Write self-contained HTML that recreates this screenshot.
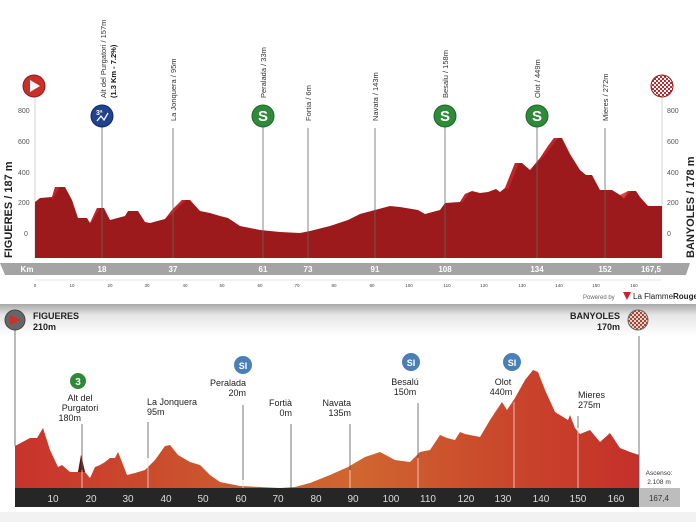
<!DOCTYPE html>
<html><head><meta charset="utf-8"><style>
html,body{margin:0;padding:0;background:#fff;}
svg{display:block;font-family:"Liberation Sans",sans-serif;}
</style></head><body>
<svg width="696" height="522" viewBox="0 0 696 522" xmlns="http://www.w3.org/2000/svg">
<defs>
<linearGradient id="band" x1="0" y1="0" x2="0" y2="1">
<stop offset="0" stop-color="#a8a8a8"/><stop offset="0.35" stop-color="#e6e6e6"/><stop offset="1" stop-color="#ffffff"/>
</linearGradient>
<linearGradient id="prof2" x1="0" y1="0" x2="1" y2="0">
<stop offset="0" stop-color="#c8332b"/><stop offset="0.35" stop-color="#cc5a2e"/><stop offset="0.55" stop-color="#d0662f"/><stop offset="0.8" stop-color="#c9452b"/><stop offset="1" stop-color="#c4302a"/>
</linearGradient>
<pattern id="chk" width="4" height="4" patternUnits="userSpaceOnUse">
<rect width="4" height="4" fill="#fff"/><rect width="2" height="2" fill="#c0282a"/><rect x="2" y="2" width="2" height="2" fill="#c0282a"/>
</pattern>
<pattern id="chk2" width="4" height="4" patternUnits="userSpaceOnUse">
<rect width="4" height="4" fill="#e8d0c8"/><rect width="2" height="2" fill="#a0463a"/><rect x="2" y="2" width="2" height="2" fill="#a0463a"/>
</pattern>
</defs>

<!-- ============ TOP CHART ============ -->
<!-- y axis ticks -->
<g font-size="7" fill="#555">
<text x="18" y="113">800</text><text x="18" y="144">600</text><text x="18" y="175">400</text><text x="18" y="205">200</text><text x="24" y="236">0</text>
<text x="667" y="113">800</text><text x="667" y="144">600</text><text x="667" y="175">400</text><text x="667" y="205">200</text><text x="667" y="236">0</text>
</g>
<line x1="35" y1="95" x2="35" y2="258" stroke="#bbb" stroke-width="0.6"/>
<line x1="662" y1="95" x2="662" y2="258" stroke="#bbb" stroke-width="0.6"/>
<text transform="translate(12,258) rotate(-90)" font-size="11" font-weight="bold" fill="#222">FIGUERES / 187 m</text>
<text transform="translate(694,258) rotate(-90)" font-size="11" font-weight="bold" fill="#222">BANYOLES / 178 m</text>

<!-- profile -->
<path fill="#9c1a1c" d="M35,258 L35,202 L40,198 L52,197 L55,187 L65,187 L72,200 L78,218 L87,218 L90,223 L97,208 L104,208 L110,220 L125,216 L128,211 L138,211 L145,222 L150,223 L165,219 L172,210 L182,200 L190,200 L200,211 L210,213 L220,216 L228,218 L240,226 L260,230 L280,232 L300,233 L310,231 L330,226 L348,220 L360,214 L375,210 L390,206 L400,207 L418,210 L425,214 L440,210 L445,203 L460,202 L465,194 L472,191 L480,193 L488,192 L496,189 L500,192 L505,188 L515,163 L522,163 L530,170 L540,158 L548,146 L554,138 L562,138 L570,154 L580,170 L586,175 L592,175 L600,190 L612,190 L620,195 L624,198 L628,191 L636,191 L640,197 L648,206 L662,206 L662,258 Z"/>
<path fill="#c7282a" opacity="0.85" d="M52,197 L55,187 L60,187 L52,200Z M90,223 L97,208 L100,208 L92,222Z M165,219 L172,210 L182,200 L186,200 L172,214Z M505,188 L515,163 L519,163 L508,190Z M530,170 L540,158 L548,146 L554,138 L558,138 L545,155Z M460,202 L465,194 L470,192 L463,202Z M620,195 L628,191 L631,191 L624,199Z"/>

<!-- marker lines -->
<g stroke="#666" stroke-width="0.8">
<line x1="102" y1="126" x2="102" y2="258"/>
<line x1="173" y1="128" x2="173" y2="258"/>
<line x1="263" y1="126" x2="263" y2="258"/>
<line x1="308" y1="128" x2="308" y2="258"/>
<line x1="375" y1="128" x2="375" y2="258"/>
<line x1="445" y1="126" x2="445" y2="258"/>
<line x1="537" y1="126" x2="537" y2="258"/>
<line x1="605" y1="128" x2="605" y2="258"/>
</g>
<g font-size="7.5" fill="#333">
<text transform="translate(106,98) rotate(-90)">Alt del Purgatori / 157m</text>
<text transform="translate(116,98) rotate(-90)" font-weight="bold" fill="#111">(1.3 Km - 7.2%)</text>
<text transform="translate(176,121) rotate(-90)">La Jonquera / 95m</text>
<text transform="translate(266,98) rotate(-90)">Peralada / 33m</text>
<text transform="translate(311,121) rotate(-90)">Fortia / 6m</text>
<text transform="translate(378,121) rotate(-90)">Navata / 143m</text>
<text transform="translate(448,98) rotate(-90)">Besalu / 158m</text>
<text transform="translate(540,98) rotate(-90)">Olot / 449m</text>
<text transform="translate(608,121) rotate(-90)">Mieres / 272m</text>
</g>
<!-- icons -->
<circle cx="34" cy="86" r="11" fill="#c9302a" stroke="#8a1e1a" stroke-width="1"/>
<path d="M30,80 L40,86 L30,92Z" fill="#fff"/>
<circle cx="662" cy="86" r="11" fill="url(#chk)" stroke="#8a1e1a" stroke-width="1"/>
<circle cx="102" cy="116" r="11" fill="#22418e" stroke="#112a66" stroke-width="1"/>
<text x="96" y="115" font-size="7" fill="#fff" font-weight="bold">3ª</text>
<path d="M97,121 L101,116 L104,120 L108,113" stroke="#fff" stroke-width="1.3" fill="none"/>
<g font-size="15" font-weight="bold" fill="#fff" text-anchor="middle">
<circle cx="263" cy="116" r="11" fill="#2f8a3a" stroke="#1e6628" stroke-width="1"/><text x="263" y="121">S</text>
<circle cx="445" cy="116" r="11" fill="#2f8a3a" stroke="#1e6628" stroke-width="1"/><text x="445" y="121">S</text>
<circle cx="537" cy="116" r="11" fill="#2f8a3a" stroke="#1e6628" stroke-width="1"/><text x="537" y="121">S</text>
</g>

<!-- km bar -->
<path d="M0,263 L690,263 L686,275 L5,275 Z" fill="#a4a4a4"/>
<g font-size="8" font-weight="bold" fill="#fff" text-anchor="middle">
<text x="27" y="272">Km</text><text x="102" y="272">18</text><text x="173" y="272">37</text><text x="263" y="272">61</text><text x="308" y="272">73</text><text x="375" y="272">91</text><text x="445" y="272">108</text><text x="537" y="272">134</text><text x="605" y="272">152</text><text x="651" y="272">167,5</text>
</g>
<line x1="35" y1="280" x2="662" y2="280" stroke="#ccc" stroke-width="0.6"/>
<g font-size="4.5" fill="#444" text-anchor="middle">
<text x="35" y="287">0</text><text x="72" y="287">10</text><text x="110" y="287">20</text><text x="147" y="287">30</text><text x="185" y="287">40</text><text x="222" y="287">50</text><text x="260" y="287">60</text><text x="297" y="287">70</text><text x="334" y="287">80</text><text x="372" y="287">90</text><text x="409" y="287">100</text><text x="447" y="287">110</text><text x="484" y="287">120</text><text x="522" y="287">130</text><text x="559" y="287">140</text><text x="596" y="287">150</text><text x="634" y="287">160</text>
</g>
<text x="583" y="299" font-size="6" fill="#666">Powered by</text>
<path d="M623,292 L631,292 L627,300Z" fill="#d0202a"/>
<text x="633" y="299" font-size="8" fill="#222">La Flamme<tspan font-weight="bold">Rouge</tspan></text>

<!-- ============ BOTTOM CHART ============ -->
<rect x="0" y="304" width="696" height="32" fill="url(#band)"/>
<path fill="url(#prof2)" d="M15,488 L15,446 L30,438 L37,438 L43,428 L50,450 L58,467 L62,465 L70,472 L78,472 L81,455 L85,472 L90,478 L95,467 L100,465 L105,462 L110,458 L115,458 L118,452 L122,462 L127,475 L135,473 L145,470 L155,460 L165,446 L170,445 L178,455 L190,462 L200,465 L210,475 L220,482 L240,486 L260,487 L280,488 L295,487 L310,483 L330,475 L348,467 L365,457 L380,452 L395,460 L410,462 L420,452 L430,450 L440,435 L447,438 L455,440 L460,432 L465,434 L480,437 L490,420 L500,405 L502,402 L507,410 L515,398 L525,380 L533,370 L538,372 L545,390 L555,412 L568,420 L570,415 L575,428 L580,434 L590,430 L600,442 L610,433 L620,448 L630,452 L639,455 L639,488 Z"/>
<path d="M78,472 L81,455 L85,472Z" fill="#5a1a14"/>
<g stroke="#e8e0dc" stroke-width="0.8">
<line x1="82" y1="470" x2="82" y2="488"/><line x1="148" y1="458" x2="148" y2="488"/><line x1="243" y1="480" x2="243" y2="488"/><line x1="350" y1="470" x2="350" y2="488"/><line x1="418" y1="458" x2="418" y2="488"/><line x1="514" y1="402" x2="514" y2="488"/><line x1="578" y1="428" x2="578" y2="488"/>
</g>
<g stroke="#555" stroke-width="0.8">
<line x1="15" y1="330" x2="15" y2="446"/>
<line x1="82" y1="424" x2="82" y2="470"/><line x1="148" y1="422" x2="148" y2="458"/><line x1="243" y1="405" x2="243" y2="480"/><line x1="291" y1="424" x2="291" y2="488"/><line x1="350" y1="424" x2="350" y2="470"/><line x1="418" y1="403" x2="418" y2="458"/><line x1="578" y1="416" x2="578" y2="428"/>
<line x1="639" y1="336" x2="639" y2="488"/>
</g>
<!-- bar -->
<rect x="15" y="488" width="624" height="19" fill="#262626"/>
<rect x="639" y="488" width="41" height="19" fill="#bdbdbd"/>
<g font-size="10" fill="#ddd" text-anchor="middle">
<text x="53" y="502">10</text><text x="91" y="502">20</text><text x="128" y="502">30</text><text x="166" y="502">40</text><text x="203" y="502">50</text><text x="241" y="502">60</text><text x="278" y="502">70</text><text x="316" y="502">80</text><text x="353" y="502">90</text><text x="391" y="502">100</text><text x="428" y="502">110</text><text x="466" y="502">120</text><text x="503" y="502">130</text><text x="541" y="502">140</text><text x="578" y="502">150</text><text x="616" y="502">160</text>
</g>
<text x="659" y="501" font-size="8" fill="#333" text-anchor="middle">167,4</text>
<text x="659" y="475" font-size="6.5" fill="#333" text-anchor="middle">Ascenso:</text>
<text x="659" y="484" font-size="6.5" fill="#333" text-anchor="middle">2.108 m</text>

<!-- icons -->
<circle cx="15" cy="320" r="10" fill="#666" stroke="#444"/>
<path d="M10,315 L21,320 L10,325Z" fill="#d0302a"/>
<circle cx="638" cy="320" r="10" fill="url(#chk2)" stroke="#666"/>
<g font-weight="bold" fill="#fff" text-anchor="middle">
<circle cx="78" cy="381" r="8" fill="#2e8a36"/><text x="78" y="385" font-size="10">3</text>
<circle cx="243" cy="365" r="9" fill="#4a7fb8"/><text x="243" y="369" font-size="9">SI</text>
<circle cx="411" cy="362" r="9" fill="#4a7fb8"/><text x="411" y="366" font-size="9">SI</text>
<circle cx="512" cy="362" r="9" fill="#4a7fb8"/><text x="512" y="366" font-size="9">SI</text>
</g>
<g font-size="9" fill="#222">
<text x="33" y="319" font-weight="bold">FIGUERES</text><text x="33" y="330" font-weight="bold">210m</text>
<text x="620" y="319" font-weight="bold" text-anchor="end">BANYOLES</text><text x="620" y="330" font-weight="bold" text-anchor="end">170m</text>
<text x="80" y="401" text-anchor="middle">Alt del</text><text x="80" y="411" text-anchor="middle">Purgatori</text><text x="81" y="421" text-anchor="end">180m</text>
<text x="147" y="405">La Jonquera</text><text x="147" y="415">95m</text>
<text x="246" y="386" text-anchor="end">Peralada</text><text x="246" y="396" text-anchor="end">20m</text>
<text x="292" y="406" text-anchor="end">Fortià</text><text x="292" y="416" text-anchor="end">0m</text>
<text x="351" y="406" text-anchor="end">Navata</text><text x="351" y="416" text-anchor="end">135m</text>
<text x="405" y="385" text-anchor="middle">Besalú</text><text x="405" y="395" text-anchor="middle">150m</text>
<text x="503" y="385" text-anchor="middle">Olot</text><text x="501" y="395" text-anchor="middle">440m</text>
<text x="578" y="398">Mieres</text><text x="578" y="408">275m</text>
</g>
<rect x="0" y="512" width="696" height="10" fill="#f2f2f2"/>
</svg>
</body></html>
